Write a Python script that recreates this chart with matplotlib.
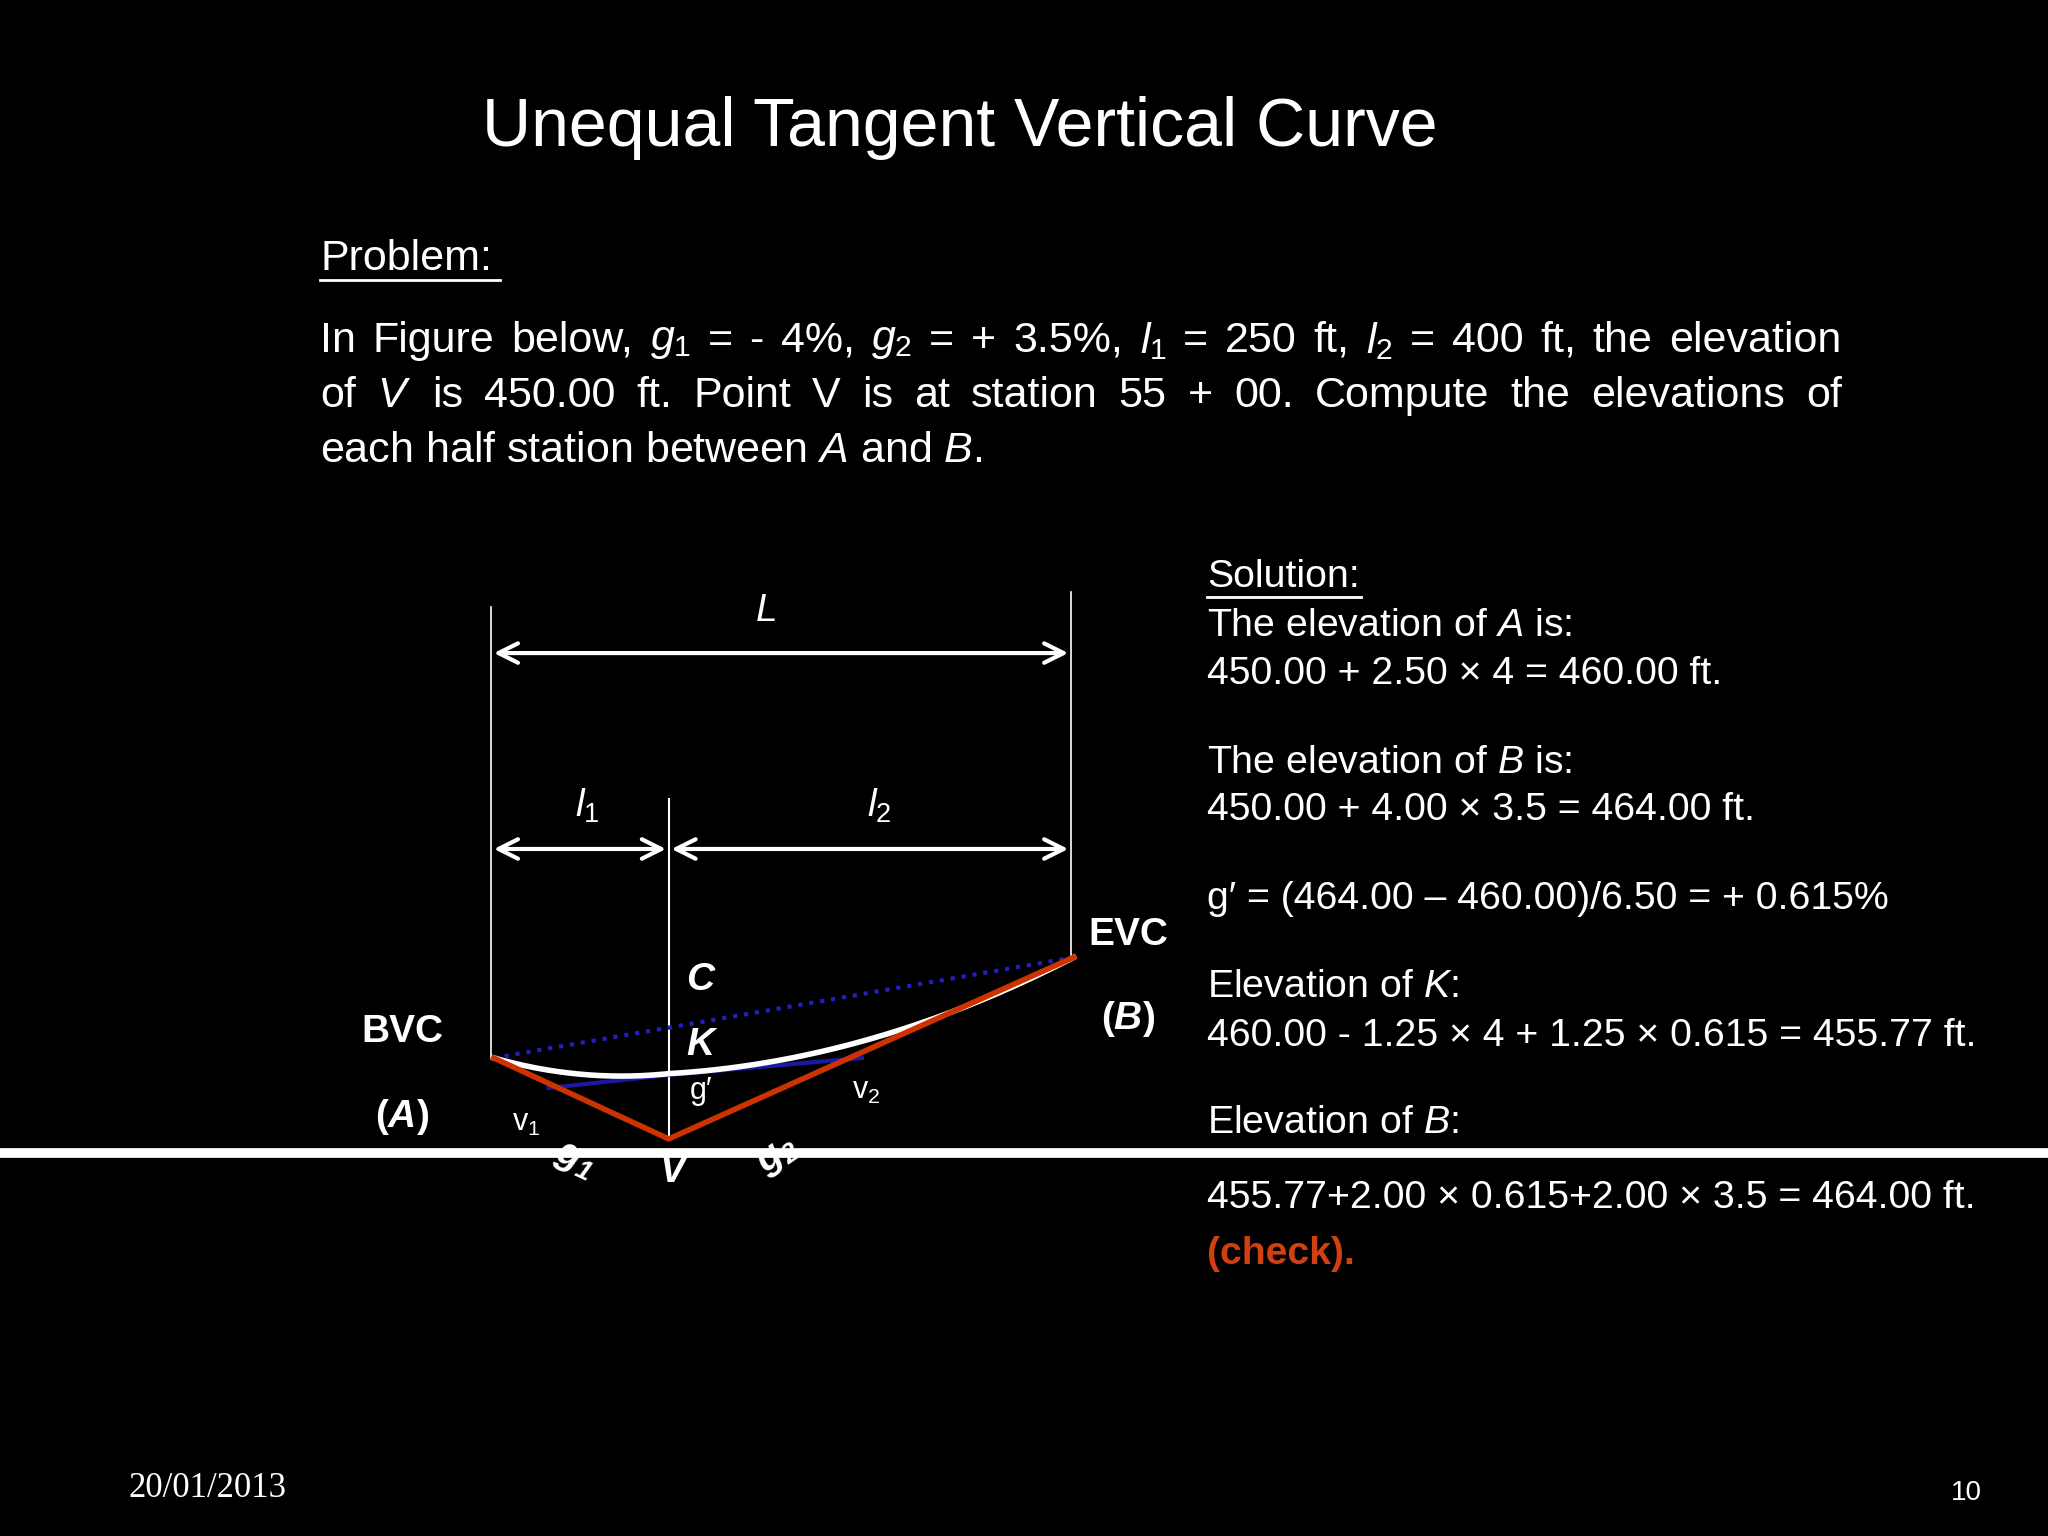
import matplotlib
matplotlib.use("Agg")
import matplotlib.pyplot as plt
import numpy as np

plt.rcParams['font.family'] = ['Liberation Sans', 'DejaVu Sans']
plt.rcParams['mathtext.fontset'] = 'custom'
plt.rcParams['mathtext.rm'] = 'Liberation Sans'
plt.rcParams['mathtext.it'] = 'Liberation Sans:italic'
plt.rcParams['mathtext.bf'] = 'Liberation Sans:bold:italic'

title = "Unequal Tangent Vertical Curve"
problem_lines = [
    r"In Figure below, $g_1$ = - 4%, $g_2$ = + 3.5%, $l_1$ = 250 ft, $l_2$ = 400 ft, the elevation",
    r"of $V$ is 450.00 ft. Point V is at station 55 + 00. Compute the elevations of",
    r"each half station between $A$ and $B$.",
]
solution_lines = [
    (442, "Solution:"),
    (479, r"The elevation of $A$ is:"),
    (516, "450.00 + 2.50 × 4 = 460.00 ft."),
    (584, r"The elevation of $B$ is:"),
    (620, "450.00 + 4.00 × 3.5 = 464.00 ft."),
    (688, "g′ = (464.00 – 460.00)/6.50 = + 0.615%"),
    (756, r"Elevation of $K$:"),
    (793, "460.00 - 1.25 × 4 + 1.25 × 0.615 = 455.77 ft."),
    (860, r"Elevation of $B$:"),
    (917, "455.77+2.00 × 0.615+2.00 × 3.5 = 464.00 ft."),
]
A = (378, 810); V = (512, 872); B = (822, 733); K = (512, 822)

fig = plt.figure(figsize=(20.48, 15.36), dpi=100, facecolor='black')
ax = fig.add_axes([0, 0, 1, 1])
ax.set_xlim(0, 1568); ax.set_ylim(1176, 0); ax.axis('off')
W = 'white'

ax.text(735, 98, title, color=W, fontsize=49, ha='center', va='center')
ax.text(245, 198, "Problem:", color=W, fontsize=31, va='center')
ax.plot([245, 383], [214, 214], color=W, lw=2)
fs = 31
r = fig.canvas.get_renderer()
left, right = 245, 1410
inv = ax.transData.inverted()
for i, l in enumerate(problem_lines):
    y = 261 + 42 * i
    if i < 2:
        words = l.split(' ')
        txts = [ax.text(0, y, w, color=W, fontsize=fs, va='center') for w in words]
        widths = []
        for t in txts:
            bb = t.get_window_extent(renderer=r)
            p0 = inv.transform((bb.x0, bb.y0)); p1 = inv.transform((bb.x1, bb.y0))
            widths.append(p1[0] - p0[0])
        gap = (right - left - sum(widths)) / (len(words) - 1)
        x = left
        for t, w in zip(txts, widths):
            t.set_x(x); x += w + gap
    else:
        ax.text(left, y, l, color=W, fontsize=fs, va='center')

for y, s in solution_lines:
    ax.text(924, y, s, color=W, fontsize=28.3, va='center')
ax.plot([924, 1042], [457, 457], color=W, lw=2)
ax.text(924, 960, "(check).", color='#d04010', fontsize=28.3, va='center', fontweight='bold')

ax.plot([376, 376], [465, 810], color=W, lw=1.2)
ax.plot([820, 820], [453, 735], color=W, lw=1.2)
ax.plot([512, 512], [612, 872], color=W, lw=1.5)
for (x0, x1, y) in [(376, 820, 500), (376, 512, 650), (512, 820, 650)]:
    ax.annotate('', xy=(x0, y), xytext=(x1, y),
                arrowprops=dict(arrowstyle='<->', color=W, lw=3, mutation_scale=35))
ax.text(587, 468, "L", color=W, fontsize=28, style='italic', ha='center', va='center')
ax.text(450, 617, "$l_1$", color=W, fontsize=28, ha='center', va='center')
ax.text(673, 617, "$l_2$", color=W, fontsize=28, ha='center', va='center')

ax.plot([0, 1568], [883, 883], color=W, lw=7)
ax.plot([A[0], B[0]], [A[1], B[1]], color='#2020c0', lw=3, ls=':')
ax.plot([420, 512, 660], [833, 823, 810], color='#1a1aa0', lw=3)
t = np.linspace(0, 1, 100)
cx1 = (1-t)**2*A[0] + 2*t*(1-t)*445 + t**2*K[0]
cy1 = (1-t)**2*A[1] + 2*t*(1-t)*829 + t**2*K[1]
cx2 = (1-t)**2*K[0] + 2*t*(1-t)*667 + t**2*B[0]
cy2 = (1-t)**2*K[1] + 2*t*(1-t)*813 + t**2*B[1]
ax.plot(np.r_[cx1, cx2], np.r_[cy1, cy2], color=W, lw=4)
ax.plot([A[0], V[0], B[0]], [A[1], V[1], B[1]], color='#cc3300', lw=4)

lab = dict(color=W, fontsize=28, ha='center', va='center')
ax.text(308, 790, "BVC", fontweight='bold', **lab)
ax.text(308, 855, r"($\mathbf{A}$)", fontweight='bold', **lab)
ax.text(864, 716, "EVC", fontweight='bold', **lab)
ax.text(864, 780, r"($\mathbf{B}$)", fontweight='bold', **lab)
ax.text(536, 750, "C", fontweight='bold', style='italic', **lab)
ax.text(536, 800, "K", fontweight='bold', style='italic', **lab)
ax.text(515, 897, "V", fontweight='bold', style='italic', **lab)
ax.text(537, 835, "g′", color=W, fontsize=22, ha='center', va='center')
ax.text(403, 860, "v$_1$", color=W, fontsize=22, ha='center', va='center')
ax.text(663, 835, "v$_2$", color=W, fontsize=22, ha='center', va='center')
ax.text(440, 888, r"$\mathbf{g}_\mathbf{1}$", color=W, fontsize=28,
        rotation=-25, ha='center', va='center')
ax.text(595, 885, r"$\mathbf{g}_\mathbf{2}$", color=W, fontsize=28,
        rotation=35, ha='center', va='center')

ax.text(98, 1140, "20/01/2013", color=W, fontsize=25, family='Liberation Serif', va='center')
ax.text(1517, 1143, "10", color=W, fontsize=20, ha='right', va='center')

fig.savefig("out.png", dpi=100, facecolor='black')
